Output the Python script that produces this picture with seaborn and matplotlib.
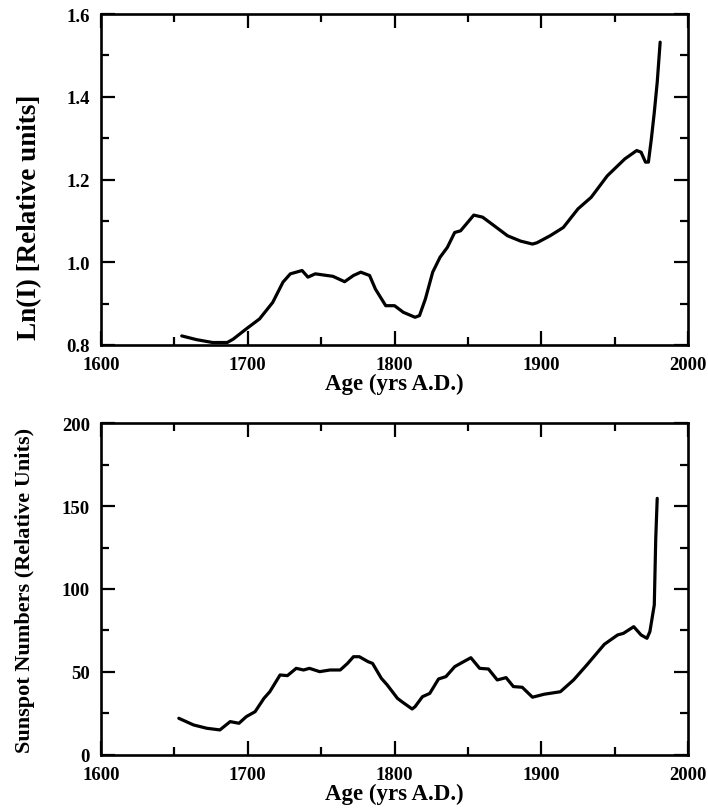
import numpy as np
import pandas as pd
import matplotlib
matplotlib.use("Agg")
import matplotlib.pyplot as plt
import seaborn as sns
from matplotlib.ticker import MultipleLocator

# ---- data ----
years_top = [1655, 1665, 1676, 1686, 1690, 1699, 1708, 1717, 1724, 1729, 1737, 1741, 1746,
             1758, 1766, 1772, 1777, 1783, 1787, 1794, 1800, 1806, 1814, 1817, 1821, 1826,
             1831, 1836, 1841, 1845, 1850, 1854, 1860, 1868, 1877, 1886, 1894, 1897, 1906,
             1915, 1925, 1934, 1945, 1957, 1965, 1968, 1971, 1973, 1975, 1977, 1979, 1981]
ln_i = [0.822, 0.813, 0.806, 0.806, 0.814, 0.839, 0.863, 0.903, 0.952, 0.972, 0.980, 0.964,
        0.972, 0.966, 0.953, 0.968, 0.976, 0.968, 0.935, 0.895, 0.895, 0.879, 0.867, 0.871,
        0.911, 0.976, 1.012, 1.036, 1.072, 1.076, 1.097, 1.114, 1.109, 1.088, 1.064, 1.051,
        1.044, 1.047, 1.064, 1.084, 1.129, 1.157, 1.209, 1.250, 1.270, 1.266, 1.242, 1.242,
        1.298, 1.362, 1.435, 1.532]

years_bot = [1653, 1663, 1672, 1681, 1688, 1694, 1699, 1705, 1711, 1715, 1722, 1727, 1733,
             1738, 1742, 1749, 1756, 1763, 1768, 1772, 1776, 1782, 1785, 1791, 1795, 1802,
             1805, 1812, 1814, 1819, 1824, 1830, 1835, 1841, 1845, 1852, 1858, 1864, 1870,
             1876, 1881, 1887, 1894, 1902, 1913, 1922, 1931, 1943, 1952, 1956, 1963, 1968,
             1972, 1974, 1977, 1978, 1979]
sunspots = [22.1, 18.1, 16.1, 15.1, 20.1, 19.1, 23.1, 26.1, 34.1, 38.1, 48.2, 47.8, 52.2,
            51.2, 52.2, 50.2, 51.2, 51.2, 55.2, 59.2, 59.2, 56.2, 55.2, 46.2, 42.2, 34.1,
            32.1, 27.7, 29.1, 35.1, 37.1, 45.8, 47.2, 53.2, 55.2, 58.6, 52.2, 51.8, 45.2,
            46.6, 41.2, 40.8, 34.8, 36.6, 38.1, 45.2, 54.2, 66.7, 72.3, 73.3, 77.3, 72.3,
            70.3, 74.3, 90.4, 130.5, 154.6]

x_ticks = [1600, 1700, 1800, 1900, 2000]
top_yticks = [0.8, 1.0, 1.2, 1.4, 1.6]
bot_yticks = [0, 50, 100, 150, 200]

sns.set_theme(style="ticks")
plt.rcParams['font.family'] = ['Liberation Serif', 'DejaVu Serif']
plt.rcParams['font.weight'] = 'bold'
for key in ['text.color', 'axes.labelcolor', 'xtick.color', 'ytick.color',
            'xtick.labelcolor', 'ytick.labelcolor', 'axes.edgecolor']:
    plt.rcParams[key] = 'black'

fig = plt.figure(figsize=(7.08, 8.12), dpi=100)
ax1 = fig.add_axes([0.1427, 0.5739, 0.8291, 0.4076])
ax2 = fig.add_axes([0.1427, 0.0690, 0.8291, 0.4088])

df_top = pd.DataFrame({"year": years_top, "val": ln_i})
df_bot = pd.DataFrame({"year": years_bot, "val": sunspots})

sns.lineplot(data=df_top, x="year", y="val", ax=ax1, color="black", linewidth=2.3, sort=False)
sns.lineplot(data=df_bot, x="year", y="val", ax=ax2, color="black", linewidth=2.3, sort=False)

def style(ax, yticks, yminor, fmt, ylabel, ylab_size, ylab_y, ylab_x):
    ax.set_xlim(1600, 2000)
    ax.set_ylim(yticks[0], yticks[-1])
    ax.set_xticks(x_ticks)
    ax.set_xticklabels([str(v) for v in x_ticks])
    ax.set_yticks(yticks)
    ax.set_yticklabels([fmt(v) for v in yticks])
    ax.xaxis.set_minor_locator(MultipleLocator(50))
    ax.yaxis.set_minor_locator(MultipleLocator(yminor))
    ax.tick_params(which="both", direction="in", top=True, right=True, width=1.6, color="black")
    ax.tick_params(which="major", length=10)
    ax.tick_params(which="minor", length=5.5)
    ax.tick_params(axis="x", which="major", pad=8, labelsize=13.5)
    ax.tick_params(axis="y", which="major", pad=8, labelsize=13.5)
    for lab in ax.get_xticklabels() + ax.get_yticklabels():
        lab.set_fontweight("bold")
        lab.set_color("black")
    for s in ax.spines.values():
        s.set_linewidth(1.9)
        s.set_color("black")
    ax.set_xlabel("Age (yrs A.D.)", fontsize=16.5, fontweight="bold", labelpad=0, color="black")
    ax.set_ylabel(ylabel, fontsize=ylab_size, fontweight="bold", color="black")
    ax.yaxis.set_label_coords(ylab_x, ylab_y)
    ax.grid(False)

style(ax1, top_yticks, 0.1, lambda v: f"{v:.1f}", "Ln(I) [Relative units]", 19.5, 0.39, -0.100)
style(ax2, bot_yticks, 25, lambda v: f"{v:d}", "Sunspot Numbers (Relative Units)", 16, 0.5, -0.112)

fig.savefig("out.png", dpi=100, facecolor="white")
